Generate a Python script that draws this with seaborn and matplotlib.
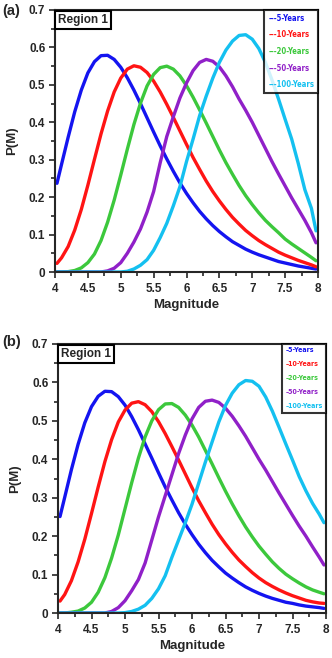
import numpy as np
import pandas as pd
import seaborn as sns
import matplotlib.pyplot as plt
from matplotlib.lines import Line2D
from matplotlib.ticker import MultipleLocator

# magnitude grid
mag = [4.03, 4.1, 4.2, 4.3, 4.4, 4.5, 4.6, 4.7, 4.8, 4.9,
       5.0, 5.1, 5.2, 5.3, 5.4, 5.5, 5.6, 5.7, 5.8, 5.9,
       6.0, 6.1, 6.2, 6.3, 6.4, 6.5, 6.6, 6.7, 6.8, 6.9,
       7.0, 7.1, 7.2, 7.3, 7.4, 7.5, 7.6, 7.7, 7.8, 7.9, 7.97]

periods = ["5-Years", "10-Years", "20-Years", "50-Years", "100-Years"]

# panel (a)
a_5 = [0.237, 0.288, 0.360, 0.428, 0.486, 0.532, 0.562, 0.578, 0.579, 0.568,
       0.547, 0.519, 0.486, 0.450, 0.412, 0.374, 0.337, 0.302, 0.269, 0.238,
       0.210, 0.185, 0.162, 0.142, 0.124, 0.108, 0.094, 0.081, 0.071, 0.061,
       0.053, 0.046, 0.040, 0.034, 0.028, 0.024, 0.020, 0.016, 0.013, 0.010, 0.008]
a_10 = [0.023, 0.038, 0.068, 0.112, 0.167, 0.232, 0.301, 0.369, 0.430, 0.481,
        0.518, 0.542, 0.551, 0.547, 0.533, 0.510, 0.481, 0.448, 0.413, 0.377,
        0.341, 0.306, 0.274, 0.243, 0.215, 0.190, 0.167, 0.146, 0.128, 0.111,
        0.097, 0.084, 0.073, 0.063, 0.053, 0.045, 0.038, 0.031, 0.025, 0.019, 0.014]
a_20 = [0.000, 0.000, 0.001, 0.004, 0.011, 0.025, 0.048, 0.084, 0.133, 0.192,
        0.259, 0.328, 0.394, 0.451, 0.497, 0.528, 0.546, 0.550, 0.542, 0.524,
        0.498, 0.467, 0.433, 0.398, 0.362, 0.326, 0.292, 0.261, 0.231, 0.204,
        0.180, 0.158, 0.138, 0.121, 0.105, 0.088, 0.075, 0.063, 0.051, 0.039, 0.030]
a_50 = [0.000, 0.000, 0.000, 0.000, 0.000, 0.000, 0.000, 0.000, 0.003, 0.010,
        0.025, 0.050, 0.080, 0.115, 0.160, 0.215, 0.292, 0.362, 0.415, 0.465,
        0.505, 0.538, 0.560, 0.568, 0.563, 0.548, 0.524, 0.495, 0.462, 0.432,
        0.400, 0.365, 0.330, 0.295, 0.262, 0.230, 0.198, 0.168, 0.138, 0.105, 0.078]
a_100 = [0.000, 0.000, 0.000, 0.000, 0.000, 0.000, 0.000, 0.000, 0.000, 0.000,
         0.000, 0.002, 0.008, 0.018, 0.033, 0.058, 0.092, 0.130, 0.177, 0.228,
         0.295, 0.355, 0.418, 0.470, 0.518, 0.560, 0.593, 0.617, 0.632, 0.634,
         0.622, 0.597, 0.560, 0.513, 0.462, 0.408, 0.355, 0.290, 0.220, 0.170, 0.110]

# panel (b)
b_5 = [0.251, 0.301, 0.373, 0.439, 0.495, 0.537, 0.564, 0.577, 0.576, 0.563,
       0.541, 0.511, 0.477, 0.440, 0.403, 0.365, 0.328, 0.294, 0.261, 0.231,
       0.204, 0.179, 0.157, 0.137, 0.120, 0.104, 0.091, 0.079, 0.068, 0.059,
       0.051, 0.044, 0.038, 0.033, 0.028, 0.025, 0.021, 0.018, 0.016, 0.014, 0.012]
b_10 = [0.031, 0.048, 0.084, 0.133, 0.192, 0.259, 0.328, 0.394, 0.451, 0.497,
        0.528, 0.546, 0.550, 0.542, 0.524, 0.498, 0.467, 0.433, 0.398, 0.362,
        0.326, 0.292, 0.261, 0.231, 0.204, 0.180, 0.158, 0.138, 0.121, 0.105,
        0.091, 0.079, 0.069, 0.060, 0.052, 0.045, 0.039, 0.033, 0.029, 0.026, 0.025]
b_20 = [0.000, 0.000, 0.002, 0.005, 0.013, 0.028, 0.054, 0.092, 0.143, 0.203,
        0.271, 0.339, 0.403, 0.458, 0.500, 0.529, 0.544, 0.545, 0.535, 0.515,
        0.489, 0.458, 0.423, 0.388, 0.352, 0.317, 0.284, 0.253, 0.224, 0.198,
        0.174, 0.153, 0.133, 0.116, 0.101, 0.089, 0.078, 0.068, 0.060, 0.054, 0.050]
b_50 = [0.000, 0.000, 0.000, 0.000, 0.000, 0.000, 0.000, 0.000, 0.004, 0.014,
        0.032, 0.058, 0.087, 0.130, 0.190, 0.250, 0.305, 0.360, 0.415, 0.463,
        0.505, 0.535, 0.551, 0.554, 0.548, 0.533, 0.512, 0.487, 0.460, 0.430,
        0.400, 0.372, 0.342, 0.312, 0.283, 0.254, 0.226, 0.200, 0.172, 0.145, 0.125]
b_100 = [0.000, 0.000, 0.000, 0.000, 0.000, 0.000, 0.000, 0.000, 0.000, 0.000,
         0.001, 0.004, 0.010, 0.020, 0.038, 0.063, 0.097, 0.145, 0.190, 0.235,
         0.283, 0.338, 0.393, 0.445, 0.497, 0.540, 0.572, 0.594, 0.605, 0.603,
         0.590, 0.562, 0.525, 0.483, 0.440, 0.398, 0.355, 0.318, 0.285, 0.257, 0.235]

colors = ["#1414F0", "#FF1414", "#3CC83C", "#9020C8", "#14C0F0"]

sns.set_style("ticks")
plt.rcParams['font.family'] = ['Liberation Sans', 'DejaVu Sans']
plt.rcParams['font.weight'] = 'bold'


def make_df(series):
    rows = []
    for name, vals in zip(periods, series):
        for m, p in zip(mag, vals):
            rows.append({"Magnitude": m, "P(M)": p, "period": name})
    return pd.DataFrame(rows)


def draw_panel(ax, series, dash, legsize, legspace):
    df = make_df(series)
    sns.lineplot(data=df, x="Magnitude", y="P(M)", hue="period",
                 palette=colors, linewidth=2.4, legend=False, ax=ax)
    ax.set_xlim(4, 8)
    ax.set_ylim(0, 0.7)
    ax.set_xticks(np.arange(4, 8.01, 0.5))
    ax.set_xticklabels(["4", "4.5", "5", "5.5", "6", "6.5", "7", "7.5", "8"])
    ax.set_yticks(np.arange(0, 0.71, 0.1))
    ax.set_yticklabels(["0", "0.1", "0.2", "0.3", "0.4", "0.5", "0.6", "0.7"])
    ax.xaxis.set_minor_locator(MultipleLocator(0.25))
    ax.yaxis.set_minor_locator(MultipleLocator(0.05))
    ax.tick_params(which='major', direction='out', length=4, width=1.2,
                   labelsize=8.5)
    ax.tick_params(axis='x', which='major', pad=4)
    ax.tick_params(axis='y', which='major', pad=3)
    ax.tick_params(which='minor', direction='out', length=3, width=1.2)
    for t in ax.get_xticklabels() + ax.get_yticklabels():
        t.set_fontweight('bold')
    for s in ax.spines.values():
        s.set_linewidth(1.5)
        s.set_visible(True)
    ax.set_xlabel("Magnitude", fontsize=9.5, fontweight='bold', labelpad=3)
    ax.set_ylabel("P(M)", fontsize=9.5, fontweight='bold', labelpad=8)
    ax.text(0.012, 0.985, "Region 1", transform=ax.transAxes, ha='left', va='top',
            fontsize=8.5, fontweight='bold',
            bbox=dict(boxstyle='square,pad=0.25', fc='white', ec='black', lw=1.5))
    handles = [Line2D([], [], alpha=0) for _ in periods]
    labels = [dash + p for p in periods]
    leg = ax.legend(handles, labels, loc='upper right', handlelength=0,
                    handletextpad=0, borderaxespad=0.0, frameon=True,
                    fancybox=False, edgecolor='black', labelspacing=legspace,
                    borderpad=0.5,
                    prop={'family': 'DejaVu Sans', 'stretch': 'condensed',
                          'size': legsize, 'weight': 'bold'})
    leg.get_frame().set_linewidth(1.5)
    for t, c in zip(leg.get_texts(), colors):
        t.set_color(c)


fig = plt.figure(figsize=(3.32, 6.58), dpi=100)
ax1 = fig.add_axes([55 / 332, 1 - 272 / 658, 263 / 332, 262 / 658])
ax2 = fig.add_axes([58 / 332, 1 - 613 / 658, 268 / 332, 269 / 658])

draw_panel(ax1, [a_5, a_10, a_20, a_50, a_100], "---", 5.5, 1.0)
draw_panel(ax2, [b_5, b_10, b_20, b_50, b_100], "\u2013", 5.0, 1.15)

fig.text(2 / 332, 1 - 4 / 658, "(a)", fontsize=10.5, fontweight='bold', va='top')
fig.text(2 / 332, 1 - 335 / 658, "(b)", fontsize=10.5, fontweight='bold', va='top')

fig.savefig("out.png", dpi=100)
